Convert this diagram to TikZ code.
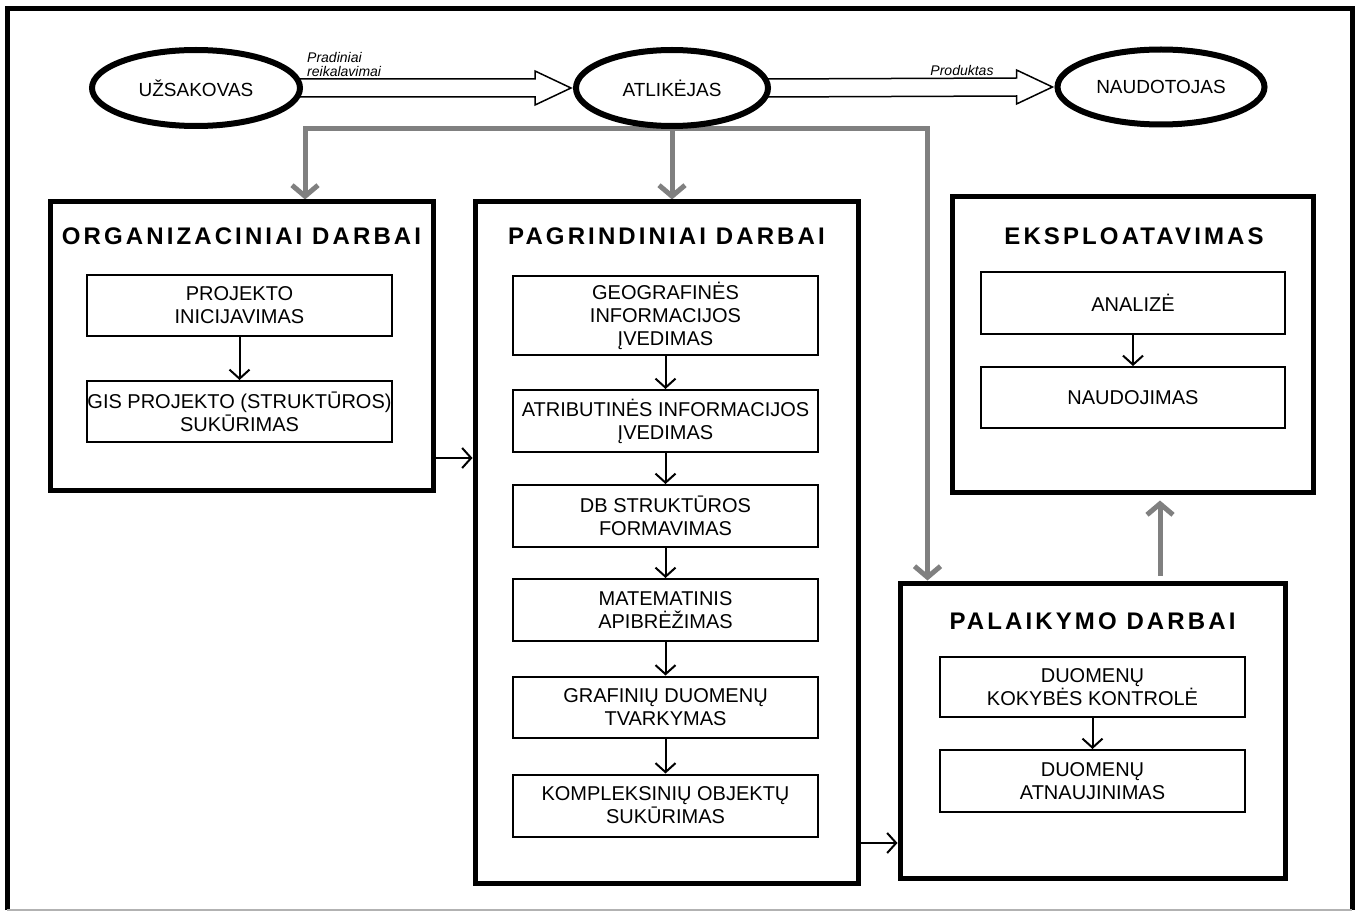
\documentclass[tikz,border=0pt]{standalone}
\usepackage{fontspec}
\setmainfont{Liberation Sans}
\newfontfamily\titlefont[LetterSpace=13]{Liberation Sans}
\usetikzlibrary{arrows.meta,shapes.geometric,calc,backgrounds}
\begin{document}
\begin{tikzpicture}[x=1pt,y=-1pt,
  ell/.style={ellipse, draw, line width=6pt, fill=white, inner sep=0pt, font=\fontsize{19}{22}\selectfont},
  bigbox/.style={rectangle, draw, line width=5pt, inner sep=0pt},
  subbox/.style={rectangle, draw, line width=2pt, fill=white, inner sep=0pt, align=center, font=\fontsize{20}{23}\selectfont, minimum width=305pt},
  ttl/.style={anchor=base, font=\titlefont\bfseries\fontsize{24}{27}\selectfont, inner sep=0pt},
  arr/.style={line width=2pt, -{Straight Barb[length=9pt,width=20pt]}},
  garr/.style={draw=gray, line width=5pt, -{Straight Barb[length=11pt,width=26pt]}},
  hollow/.style={line width=1.5pt, fill=white, line join=miter},
  lbl/.style={font=\itshape\fontsize{14}{16}\selectfont, inner sep=0pt}
]
\useasboundingbox (0,0) rectangle (1360,912);
% frame
\draw[line width=5pt] (7,910) -- (7,9) -- (1352,9) -- (1352,910);
\draw[gray!60, line width=1.5pt] (7,910) -- (1352,910);

% actors
\node[ell, minimum width=208pt, minimum height=76pt] (u) at (196,88) {UŽSAKOVAS};
\node[ell, minimum width=192pt, minimum height=76pt] (a) at (672,88) {ATLIKĖJAS};
\node[ell, minimum width=207pt, minimum height=75pt] (n) at (1161,87) {NAUDOTOJAS};
\node[lbl, anchor=base west] (l1) at ($(u.east)+(4,-25)$) {Pradiniai};
\node[lbl, anchor=base west] (l2) at ($(u.east)+(4,-11)$) {reikalavimai};
\node[lbl, anchor=base] (l3) at (962,76) {Produktas};

% big boxes
\node[bigbox, minimum width=383pt, minimum height=288pt] (org) at (241.5,346) {};
\node[bigbox, minimum width=383pt, minimum height=681pt] (pag) at (666.5,542.5) {};
\node[bigbox, minimum width=361pt, minimum height=295pt] (eks) at (1132.5,344.5) {};
\node[bigbox, minimum width=385pt, minimum height=295pt] (pal) at (1092.5,730.5) {};

\node[ttl] (t1) at (241.5,244) {ORGANIZACINIAI DARBAI};
\node[ttl] (t2) at (666.5,244) {PAGRINDINIAI DARBAI};
\node[ttl] (t3) at (1134,244) {EKSPLOATAVIMAS};
\node[ttl] (t4) at (1092.5,629) {PALAIKYMO DARBAI};

% sub boxes
\node[subbox, minimum height=61pt] (o1) at (239.5,305.5) {PROJEKTO\\INICIJAVIMAS};
\node[subbox, minimum height=61pt] (o2) at (239.5,411.5) {GIS PROJEKTO (STRUKTŪROS)\\SUKŪRIMAS};

\node[subbox, minimum height=79pt] (p1) at (665.5,315.5) {GEOGRAFINĖS\\INFORMACIJOS\\ĮVEDIMAS};
\node[subbox, minimum height=62pt] (p2) at (665.5,421) {ATRIBUTINĖS INFORMACIJOS\\ĮVEDIMAS};
\node[subbox, minimum height=62pt] (p3) at (665.5,516) {DB STRUKTŪROS\\FORMAVIMAS};
\node[subbox, minimum height=62pt] (p4) at (665.5,610) {MATEMATINIS\\APIBRĖŽIMAS};
\node[subbox, minimum height=61pt] (p5) at (665.5,707) {GRAFINIŲ DUOMENŲ\\TVARKYMAS};
\node[subbox, minimum height=62pt] (p6) at (665.5,805.5) {KOMPLEKSINIŲ OBJEKTŲ\\SUKŪRIMAS};

\node[subbox, minimum width=304pt, minimum height=62pt] (e1) at (1133,303) {ANALIZĖ};
\node[subbox, minimum width=304pt, minimum height=61pt] (e2) at (1133,397.5) {NAUDOJIMAS};

\node[subbox, minimum height=60pt] (q1) at (1092.5,687) {DUOMENŲ\\KOKYBĖS KONTROLĖ};
\node[subbox, minimum height=62pt] (q2) at (1092.5,781) {DUOMENŲ\\ATNAUJINIMAS};

\begin{pgfonlayer}{background}
% hollow arrows
\draw[hollow] ($(u.east)+(-4,-9)$) -- ($(a.west)+(-38,-9)$) -- ($(a.west)+(-38,-17)$) -- ($(a.west)+(-2,0)$)
   -- ($(a.west)+(-38,17)$) -- ($(a.west)+(-38,9)$) -- ($(u.east)+(-4,9)$);
\draw[hollow] ($(a.east)+(-4,-9)$) -- ($(n.west)+(-38,-9)$) -- ($(n.west)+(-38,-17)$) -- ($(n.west)+(-2,0)$)
   -- ($(n.west)+(-38,17)$) -- ($(n.west)+(-38,9)$) -- ($(a.east)+(-4,9)$);
% grey connectors
\draw[garr] (a.south) -| ($(org.north)+(63.5,0)$);
\draw[garr] (a.south) -- (a.south |- pag.north);
\draw[garr] (a.south) -| ($(pal.north west)+(30,0)$);
\draw[garr] ($(pal.north)+(67.5,-5)$) -- ($(eks.south)+(27.5,6)$);
% black arrows
\draw[arr] (o1) -- (o2);
\draw[arr] (p1) -- (p2);
\draw[arr] (p2) -- (p3);
\draw[arr] (p3) -- (p4);
\draw[arr] (p4) -- (p5);
\draw[arr] (p5) -- (p6);
\draw[arr] (e1) -- (e2);
\draw[arr] (q1) -- (q2);
\draw[arr] ($(org.east)+(0,112)$) -- ($(pag.west)+(0,-84.5)$);
\draw[arr] ($(pag.east)+(0,300.5)$) -- ($(pal.west)+(0,112.5)$);
\end{pgfonlayer}
\end{tikzpicture}
\end{document}
